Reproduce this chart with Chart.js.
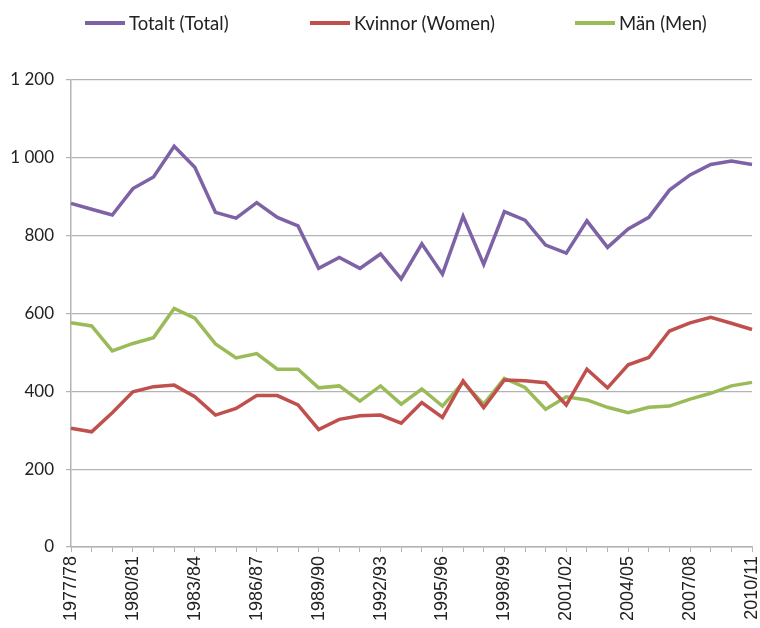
<!DOCTYPE html>
<html>
<head>
<meta charset="utf-8">
<script src="https://cdn.jsdelivr.net/npm/chart.js@4"></script>
<style>
  html,body{margin:0;padding:0;background:#fff;}
  #wrap{position:relative;width:760px;height:628px;}
  #legend{position:absolute;top:10px;left:0;width:760px;height:26px;font:18.5px Lato,sans-serif;color:#222;}
  .item{position:absolute;top:0;display:flex;align-items:center;height:26px;white-space:nowrap;}
  .item i{display:inline-block;width:40px;height:4px;margin-right:4px;}
</style>
</head>
<body>
<div id="wrap">
  <canvas id="c" width="760" height="628"></canvas>
  <div id="legend"></div>
</div>
<script>
  /* ── DATA ── */
  const seasons = ['1977/78','1978/79','1979/80','1980/81','1981/82','1982/83','1983/84','1984/85','1985/86','1986/87',
                   '1987/88','1988/89','1989/90','1990/91','1991/92','1992/93','1993/94','1994/95','1995/96','1996/97',
                   '1997/98','1998/99','1999/00','2000/01','2001/02','2002/03','2003/04','2004/05','2005/06','2006/07',
                   '2007/08','2008/09','2009/10','2010/11'];
  const totalt  = [883,868,853,921,951,1030,976,860,845,885,847,825,716,744,716,753,689,779,701,850,
                   726,862,840,776,755,838,770,817,847,917,956,983,992,983];
  const kvinnor = [305,296,345,399,412,416,386,339,356,389,389,365,302,328,337,339,318,371,333,427,
                   358,429,427,422,365,457,409,468,487,555,576,590,575,559];
  const man     = [576,568,504,523,538,613,588,522,486,497,457,457,409,414,375,414,367,406,362,423,
                   367,433,410,354,386,378,359,345,359,362,380,395,414,423];
  const seriesNames = ['Totalt (Total)','Kvinnor (Women)','Män (Men)'];
  const yTicks = [0,200,400,600,800,1000,1200];

  const colors = ['#7e62a6','#c0504d','#9bbb59'];
  const legendX = [85,310,575];
  const grey = '#b3b3b3';

  /* ── LEGEND (html) ── */
  const lg = document.getElementById('legend');
  seriesNames.forEach((n,i)=>{
    const d = document.createElement('div');
    d.className='item'; d.style.left=legendX[i]+'px';
    d.innerHTML='<i style="background:'+colors[i]+'"></i><span>'+n+'</span>';
    lg.appendChild(d);
  });

  /* ── CHART ── */
  const fmt = v => String(v).replace(/\B(?=(\d{3})+(?!\d))/g,' ');
  new Chart(document.getElementById('c'),{
    type:'line',
    data:{
      labels:seasons,
      datasets:[totalt,kvinnor,man].map((d,i)=>({
        label:seriesNames[i], data:d,
        borderColor:colors[i], backgroundColor:colors[i],
        borderWidth:3.5, pointRadius:0, tension:0
      }))
    },
    options:{
      responsive:false, animation:false,
      layout:{padding:{top:80,right:8,left:0,bottom:0}},
      plugins:{legend:{display:false},tooltip:{enabled:false}},
      scales:{
        x:{
          offset:false,
          grid:{drawOnChartArea:false,drawTicks:true,tickLength:5,color:grey},
          border:{color:grey,width:1.5},
          ticks:{autoSkip:false,maxRotation:90,minRotation:90,padding:4,color:'#222',
                 font:{family:'"Liberation Sans",Arial,sans-serif',size:18},
                 callback:(v,i)=> i%3===0 ? seasons[i] : ''},
          afterFit:s=>{ s.height = 628-547; s.paddingRight = 0; s.paddingLeft = 0; }
        },
        y:{
          min:0,max:1200,
          afterBuildTicks:s=>{ s.ticks = yTicks.map(v=>({value:v})); },
          grid:{color:grey,lineWidth:1.2,tickLength:5},
          border:{color:grey,width:1.5},
          ticks:{padding:12,color:'#222',font:{family:'Lato,sans-serif',size:17},
                 callback:v=>fmt(v)},
          afterFit:s=>{ s.width = 71; }
        }
      }
    }
  });
</script>
</body>
</html>
